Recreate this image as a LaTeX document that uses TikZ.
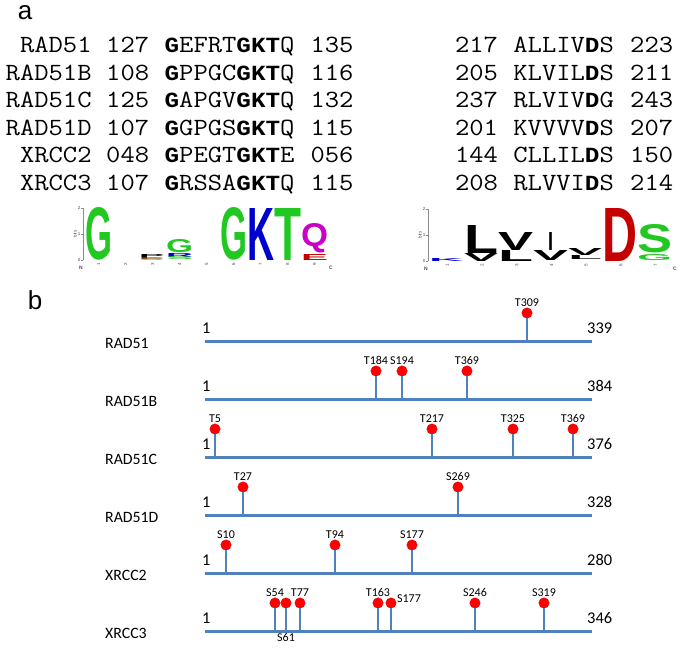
\documentclass[tikz,border=0pt]{standalone}
\usepackage{fontspec}
\usepackage{graphicx}
\usepackage{xcolor}
\usetikzlibrary{positioning}

\newfontfamily\calibri{Carlito}
\newfontfamily\arial{Liberation Sans}
\newfontfamily\monob{Liberation Mono}

\definecolor{protblue}{RGB}{79,129,189}
\definecolor{logogreen}{RGB}{34,200,34}
\definecolor{logoblue}{RGB}{0,0,204}
\definecolor{logored}{RGB}{196,0,0}
\definecolor{logopurple}{RGB}{200,0,200}

\newcommand{\seqtxt}[1]{\scalebox{1}[0.89]{\ttfamily\fontsize{27.8}{30}\selectfont #1}}
\newcommand{\consv}[1]{{\monob\bfseries\fontsize{24.3}{30}\selectfont #1}}
\newcommand{\logochar}[4]{\resizebox{#1pt}{#2pt}{\textcolor{#3}{\arial\bfseries #4}}}

\begin{document}
\begin{tikzpicture}[x=1pt, y=-1pt,
    seq/.style={inner sep=0, outer sep=0},
    logo/.style={inner sep=0, outer sep=0, anchor=south west},
    axislbl/.style={inner sep=0, font=\arial\fontsize{4.5}{5}\selectfont, text=black!70},
    protein/.style={protblue, line width=3pt},
    stem/.style={protblue, line width=2.2pt},
    site/.style={circle, fill=red, draw=red!85!black, line width=0.3pt, minimum size=10.5pt, inner sep=0},
    sitelabel/.style={inner sep=0.5pt, font=\calibri\fontsize{12}{13}\selectfont},
    rowlabel/.style={inner sep=0, font=\calibri\fontsize{15.8}{18}\selectfont},
    endnum/.style={inner sep=0, font=\calibri\fontsize{16.4}{18}\selectfont},
    panel/.style={inner sep=0, font=\arial\fontsize{26}{28}\selectfont}]

    % Fix the page size
    \path[fill=white, use as bounding box] (0,0) rectangle (685,655);

    % Panel letters
    \node[panel] (pa) at (25,13) {a};
    \node[panel] (pb) at (35,300) {b};

    % Walker A and walker B alignments
    \foreach \nm/\fa/\motA/\ea/\fb/\motB/\eb [count=\i] in {
        RAD51/127/{\consv{G}EFRT\consv{GKT}Q}/135/217/{ALLIV\consv{D}S}/223,
        RAD51B/108/{\consv{G}PPGC\consv{GKT}Q}/116/205/{KLVIL\consv{D}S}/211,
        RAD51C/125/{\consv{G}APGV\consv{GKT}Q}/132/237/{RLVIV\consv{D}G}/243,
        RAD51D/107/{\consv{G}GPGS\consv{GKT}Q}/115/201/{KVVVV\consv{D}S}/207,
        XRCC2/048/{\consv{G}PEGT\consv{GKT}E}/056/144/{CLLIL\consv{D}S}/150,
        XRCC3/107/{\consv{G}RSSA\consv{GKT}Q}/115/208/{RLVVI\consv{D}S}/214}
    {
        \pgfmathsetmacro{\yy}{53+27.5*(\i-1)}
        \node[seq, anchor=base east] (name\i) at (91.6,\yy) {\seqtxt{\nm}};
        \node[seq, anchor=base west] (fromA\i) at (106.2,\yy) {\seqtxt{\fa}};
        \node[seq, anchor=base west] (walkA\i) at (164.6,\yy) {\seqtxt{\motA}};
        \node[seq, anchor=base west] (toA\i) at (310.6,\yy) {\seqtxt{\ea}};
        \node[seq, anchor=base west] (fromB\i) at (455,\yy) {\seqtxt{\fb}};
        \node[seq, anchor=base west] (walkB\i) at (513.4,\yy) {\seqtxt{\motB}};
        \node[seq, anchor=base west] (toB\i) at (630.2,\yy) {\seqtxt{\eb}};
    }

    % Logo axes
    \foreach \ax/\cx/\np/\cw/\bl/\lg in {83/331/9/27/260/L, 428/675/7/34.7/261/R}
    {
        \draw[black!45, line width=0.5pt] (\ax,\bl-52) -- (\ax,\bl);
        \foreach \t in {0,1,2} {
            \draw[black!45, line width=0.4pt] (\ax,\bl-26*\t) -- (\ax-2,\bl-26*\t);
            \node[axislbl, anchor=east] (tick\lg\t) at (\ax-2.5,\bl-26*\t) {\t};
        }
        \node[axislbl, rotate=90] (bits\lg) at (\ax-8,\bl-26) {bits};
        \node[axislbl, font=\arial\bfseries\fontsize{5}{5}\selectfont] (N\lg) at (\ax-2,\bl+8) {N};
        \node[axislbl, font=\arial\bfseries\fontsize{5}{5}\selectfont] (C\lg) at (\cx,\bl+8) {C};
        \foreach \k in {1,...,\np}
            \node[axislbl, rotate=90] (pos\lg\k) at ({\ax+2+\cw*(\k-0.5)},\bl+4) {\k};
    }

    % Logo letters: x / bottom / width / height / colour / letter
    \foreach \x/\yb/\w/\h/\col/\ch [count=\k] in {
        85/260/27/52/logogreen/G,
        139/257/25/3/black/P, 139/259/25/2/logored/E, 139/260.5/25/1.5/logogreen/S,
        166/253/27/13/logogreen/G, 166/257/27/4/logoblue/R, 166/260/27/3/logogreen/S,
        220/260/27/52/logogreen/G, 247/260/27/52/logoblue/K, 274/260/27/52/logogreen/T,
        301/253/27/23/logopurple/Q, 301/260/27/6/logored/E,
        429/261/35/3/logoblue/K,
        464/253/34/28/black/L, 464/261/34/8/black/V,
        498/250/35/18/black/V, 498/261/35/11/black/L,
        548/250/5/18/black/I, 533/260/35/10/black/V,
        568/255/34/7/black/V, 568/259/34/4/black/L,
        602/261/35/53/logored/D,
        637/253/35/28/logogreen/S, 637/261/35/6/logogreen/G}
        \node[logo] (glyph\k) at (\x,\yb) {\logochar{\w}{\h}{\col}{\ch}};

    % Protein bars
    \foreach \nm/\len [count=\r] in {RAD51/339, RAD51B/384, RAD51C/376, RAD51D/328, XRCC2/280, XRCC3/346}
    {
        \pgfmathsetmacro{\yy}{341+58*(\r-1)}
        \coordinate (a\r) at (205,\yy);
        \coordinate (b\r) at (592,\yy);
        \draw[protein] (a\r) -- (b\r);
        \node[rowlabel, anchor=west] (lab\r) at (105,\yy+2) {\nm};
        \node[endnum, anchor=base west] (one\r) at (202,\yy-8) {1};
        \node[endnum, anchor=base west] (len\r) at (587,\yy-8) {\len};
    }

    % Phosphosites
    \foreach \r/\x/\s in {1/527/T309, 2/376/T184, 2/402/S194, 2/467/T369,
        3/215/T5, 3/432/T217, 3/513/T325, 3/573/T369, 4/243/T27, 4/458/S269,
        5/226/S10, 5/335/T94, 5/412/S177, 6/275/S54, 6/286/S61, 6/300/T77,
        6/378/T163, 6/391/S177, 6/475/S246, 6/544/S319}
    {
        \node[site] (s\r\s) at (\x,{341+58*(\r-1)-28}) {};
        \draw[stem] (s\r\s.south) -- (s\r\s |- a\r);
    }

    % Site names
    \foreach \r/\s in {1/T309, 2/T184, 2/S194, 2/T369, 3/T5, 3/T217, 3/T325, 3/T369,
        4/T27, 4/S269, 5/S10, 5/T94, 5/S177, 6/S54, 6/T77, 6/T163, 6/S246, 6/S319}
        \node[sitelabel, above=0.5pt of s\r\s] (t\r\s) {\s};
    \coordinate (f6) at (s6S61 |- a6);
    \node[sitelabel, below=2pt of f6] (t6S61) {S61};
    \node[sitelabel, anchor=south west] (t6S177) at (s6S177.east) {S177};
\end{tikzpicture}
\end{document}
